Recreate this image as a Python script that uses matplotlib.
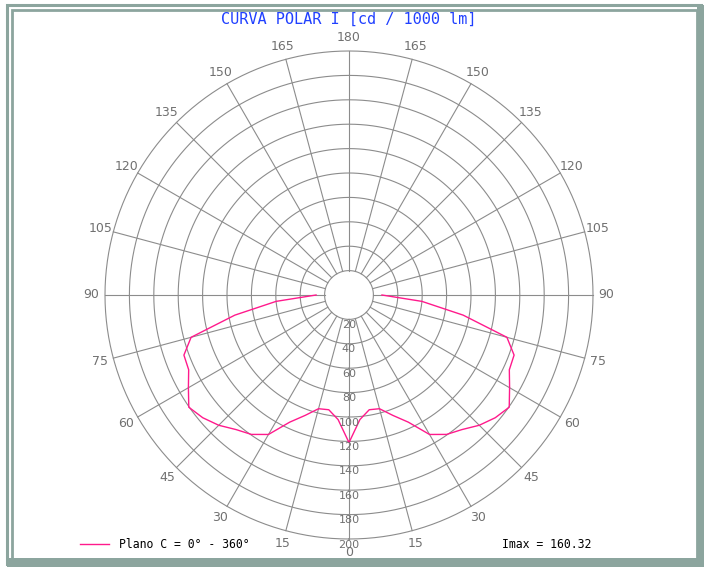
import numpy as np
import matplotlib
matplotlib.use("Agg")
import matplotlib.pyplot as plt
from matplotlib.patches import Rectangle

# luminous intensity [cd / 1000 lm], symmetric plane C 0-360
gamma = [0, 5, 10, 15, 20, 25, 30, 35, 40, 45, 50, 55, 60, 65, 70, 75, 80, 85, 90]
intensity = [121, 102.5, 95.5, 96.5, 105, 115, 132, 139.5, 144, 151, 156.5,
             160.32, 152, 145, 144, 134, 95, 60, 27]

ring_values = [20, 40, 60, 80, 100, 120, 140, 160, 180, 200]
spoke_angles = list(range(0, 360, 15))

title = "CURVA POLAR I [cd / 1000 lm]"
legend_label = "Plano C = 0\u00b0 - 360\u00b0"
imax_text = "Imax = 160.32"

W, H = 704, 567
grid_color = "#8c8c8c"
label_color = "#707070"
curve_color = "#ff1a8c"
frame_color = "#8ca59e"

fig = plt.figure(figsize=(W / 100, H / 100), dpi=100)

cx, cy, R = 349, 295, 244
ax = fig.add_axes([(cx - R) / W, (H - cy - R) / H, 2 * R / W, 2 * R / H])
ax.set_xlim(-200, 200)
ax.set_ylim(-200, 200)
ax.set_aspect("equal")
ax.axis("off")


def to_xy(ang_deg, r):
    # angle measured from the downward vertical (0 = nadir)
    a = np.deg2rad(np.asarray(ang_deg, dtype=float))
    r = np.asarray(r, dtype=float)
    return r * np.sin(a), -r * np.cos(a)


# rings
full = np.linspace(0, 360, 361)
for rv in ring_values:
    x, y = to_xy(full, np.full_like(full, rv))
    ax.plot(x, y, color=grid_color, lw=0.8, clip_on=False)

# spokes
for a in spoke_angles:
    x, y = to_xy([a, a], [ring_values[0], ring_values[-1]])
    ax.plot(x, y, color=grid_color, lw=0.8, clip_on=False)

# angle labels
for a in spoke_angles:
    lab = min(a, 360 - a)
    x, y = to_xy(a, 211)
    ax.text(x, y, str(lab), ha="center", va="center", fontsize=9,
            color=label_color, clip_on=False)

# radial labels
for rv in ring_values:
    x, y = to_xy(0, rv)
    ax.text(x, y - 0.5, str(rv), ha="center", va="top", fontsize=8,
            color=label_color, clip_on=False)

# curve: left half mirrored + right half
ang_full = [-g for g in gamma[::-1]] + gamma[1:]
int_full = intensity[::-1] + intensity[1:]
x, y = to_xy(ang_full, int_full)
line, = ax.plot(x, y, color=curve_color, lw=1.0, clip_on=False)

# title
fig.text(cx / W, 1 - 19 / H, title, ha="center", va="center",
         family="DejaVu Sans Mono", fontsize=11, color="#2040ff")

# legend
ax.legend([line], [legend_label], loc="center left",
          bbox_to_anchor=(80 / W, 1 - 545 / H), bbox_transform=fig.transFigure,
          frameon=False, borderpad=0, borderaxespad=0, handlelength=2.5,
          handletextpad=0.85, prop={"family": "DejaVu Sans Mono", "size": 8.3})
fig.text(502 / W, 1 - 544 / H, imax_text, ha="left", va="center",
         family="DejaVu Sans Mono", fontsize=8.3, color="black")


# double frame
def px_rect(x0, y0, x1, y1, **kw):
    return Rectangle((x0 / W, 1 - y1 / H), (x1 - x0) / W, (y1 - y0) / H,
                     transform=fig.transFigure, **kw)


fig.add_artist(px_rect(7, 5, 701, 564, fill=False, lw=2.2, edgecolor=frame_color))
fig.add_artist(px_rect(12, 10, 697, 559, fill=False, lw=2.0, edgecolor=frame_color))
fig.add_artist(px_rect(697, 5, 704, 567, fill=True, lw=0, facecolor=frame_color))
fig.add_artist(px_rect(7, 558, 704, 567, fill=True, lw=0, facecolor=frame_color))

fig.savefig("out.png", dpi=100)
